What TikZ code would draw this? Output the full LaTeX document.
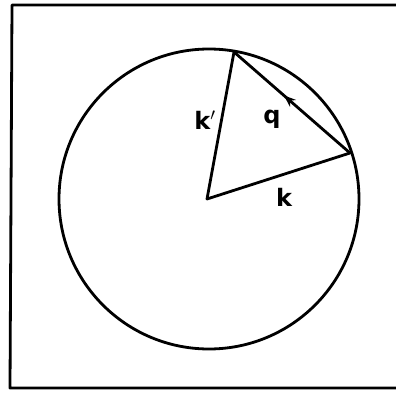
\documentclass[tikz,border=0pt]{standalone}
\usepackage{fontspec}
\setsansfont{DejaVu Sans}
\usetikzlibrary{arrows.meta,decorations.markings}
\begin{document}
\begin{tikzpicture}[x=1pt,y=-1pt,
  ink/.style={line width=2.8pt,line cap=round,line join=round},
  lbl/.style={font=\fontsize{24}{28}\selectfont\sffamily\bfseries,inner sep=0pt},
  midarrow/.style={postaction={decorate},decoration={markings,mark=at position 0.57 with {\arrow{Stealth[length=12pt,width=9pt]}}}}]
\useasboundingbox (0,0) rectangle (396,393);
\draw[ink] (396,5) -- (12,5) -- (10,388) -- (396,388);
\coordinate (C) at (209,199);
\coordinate (O) at (207,199);
\coordinate (A) at (234,52);
\coordinate (B) at (350,153);
\draw[ink] (C) circle[radius=150];
\draw[ink] (A) -- (O) -- (B);
\draw[ink,midarrow] (B) -- (A);
\node[lbl] (kp) at (205,120) {k$'$};
\node[lbl] (q) at (272,119) {q};
\node[lbl] (k) at (284,197) {k};
\end{tikzpicture}
\end{document}
